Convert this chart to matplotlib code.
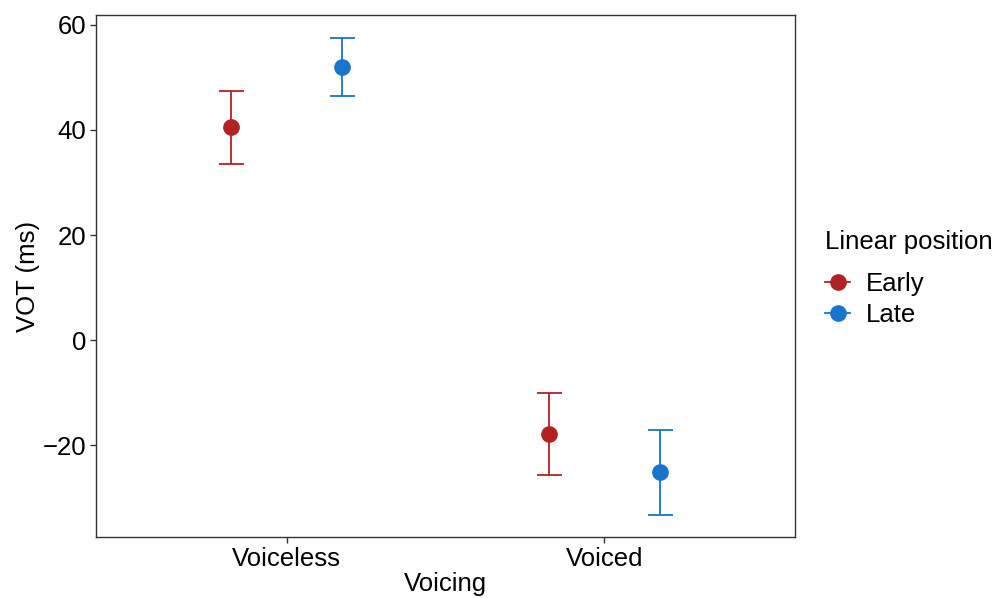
import matplotlib.pyplot as plt
from matplotlib.lines import Line2D
import numpy as np

plt.rcParams['font.family'] = ['Liberation Sans', 'DejaVu Sans']

voicing = ["Voiceless", "Voiced"]
groups = ["Early", "Late"]
colors = {"Early": "#B22222", "Late": "#1874CD"}

# mean, lower, upper for each group (Voiceless, Voiced)
means = {"Early": [40.5, -17.8], "Late": [52.0, -25.1]}
lower = {"Early": [33.5, -25.6], "Late": [46.5, -33.3]}
upper = {"Early": [47.4, -10.0], "Late": [57.5, -17.1]}

fig = plt.figure(figsize=(9.95, 5.98), dpi=100)
ax = fig.add_axes([0.0965, 0.102, 0.7025, 0.873])

x = np.arange(1, len(voicing) + 1)
offsets = {"Early": -0.174, "Late": 0.174}

for g in groups:
    m = np.array(means[g])
    lo = m - np.array(lower[g])
    hi = np.array(upper[g]) - m
    ax.errorbar(
        x + offsets[g], m, yerr=[lo, hi],
        fmt="o", color=colors[g], ecolor=colors[g],
        markersize=11, elinewidth=1.3, capsize=9, capthick=1.3
    )

ax.set_xlim(0.4, 2.6)
ax.set_ylim(-37.5, 61.9)
ax.set_xticks(x)
ax.set_xticklabels(voicing)
ax.set_yticks([-20, 0, 20, 40, 60])
ax.set_yticklabels(["\u221220", "0", "20", "40", "60"])

ax.tick_params(labelsize=18.5, length=4, width=1, color="#333333", pad=3)
for s in ax.spines.values():
    s.set_color("#333333")
    s.set_linewidth(1)

ax.set_xlabel("Voicing", fontsize=18.5, labelpad=1)
ax.set_ylabel("VOT (ms)", fontsize=18.5, labelpad=2)

handles = [Line2D([0], [0], color=colors[g], marker="o", markersize=11,
                  linewidth=1.3) for g in groups]
leg = fig.legend(
    handles, groups,
    loc="upper left", bbox_to_anchor=(0.8185, 0.633),
    title="Linear position", fontsize=18.5, title_fontsize=18.5,
    frameon=False, handlelength=1.0, handletextpad=0.6,
    labelspacing=0.28, borderaxespad=0
)
leg._legend_box.align = "left"
leg._legend_box.sep = 13

fig.savefig("out.png", dpi=100)
